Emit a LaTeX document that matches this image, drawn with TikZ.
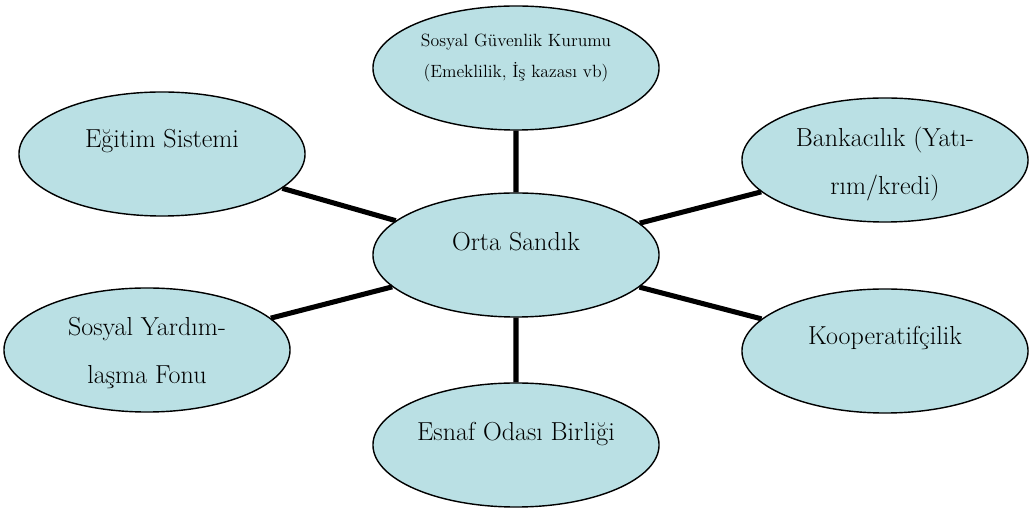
\documentclass[tikz,border=0pt]{standalone}
\usepackage{fontspec}
\usepackage{xcolor}
\usetikzlibrary{shapes.geometric, positioning}
\definecolor{sandikblue}{RGB}{186,224,228}

\begin{document}
\begin{tikzpicture}[x=0.025cm, y=-0.025cm,
        kurum/.style={draw, ellipse, fill=sandikblue, line width=1pt,
            minimum width=7.15cm, minimum height=3.1cm, inner sep=0pt},
        yazi/.style={align=center, font=\fontsize{18.5}{33.5}\selectfont},
        kucukyazi/.style={align=center, font=\fontsize{12.6}{22.5}\selectfont},
        bag/.style={line width=3.6pt}]
                        \useasboundingbox (0, 0) rectangle (1034, 510);

                        \node[kurum] (orta) at (516, 255) {};
                        \node[kurum] (sgk) at (516, 68) {};
                        \node[kurum] (egitim) at (162, 154) {};
                        \node[kurum] (banka) at (885, 160) {};
                        \node[kurum] (yardim) at (147, 350) {};
                        \node[kurum] (koop) at (885, 351) {};
                        \node[kurum] (esnaf) at (516, 445) {};

                        \node[yazi, anchor=base] (tOrta) at (516, 251) {Orta Sandık};
                        \node[kucukyazi] (tSgk) at (516, 58) {Sosyal Güvenlik Kurumu\\(Emeklilik, İş kazası vb)};
                        \node[yazi, anchor=base] (tEgitim) at (162, 148) {Eğitim Sistemi};
                        \node[yazi] (tBanka) at (885, 164) {Bankacılık (Yatı-\\rım/kredi)};
                        \node[yazi] (tYardim) at (147, 353) {Sosyal Yardım-\\laşma Fonu};
                        \node[yazi, anchor=base] (tKoop) at (885, 345) {Kooperatifçilik};
                        \node[yazi, anchor=base] (tEsnaf) at (516, 441) {Esnaf Odası Birliği};

                        \draw[bag]
                        (sgk) -- (orta)
                        (egitim) -- (orta)
                        (banka) -- (orta)
                        (yardim) -- (orta)
                        (koop) -- (orta)
                        (esnaf) -- (orta);
                    \end{tikzpicture}
\end{document}
